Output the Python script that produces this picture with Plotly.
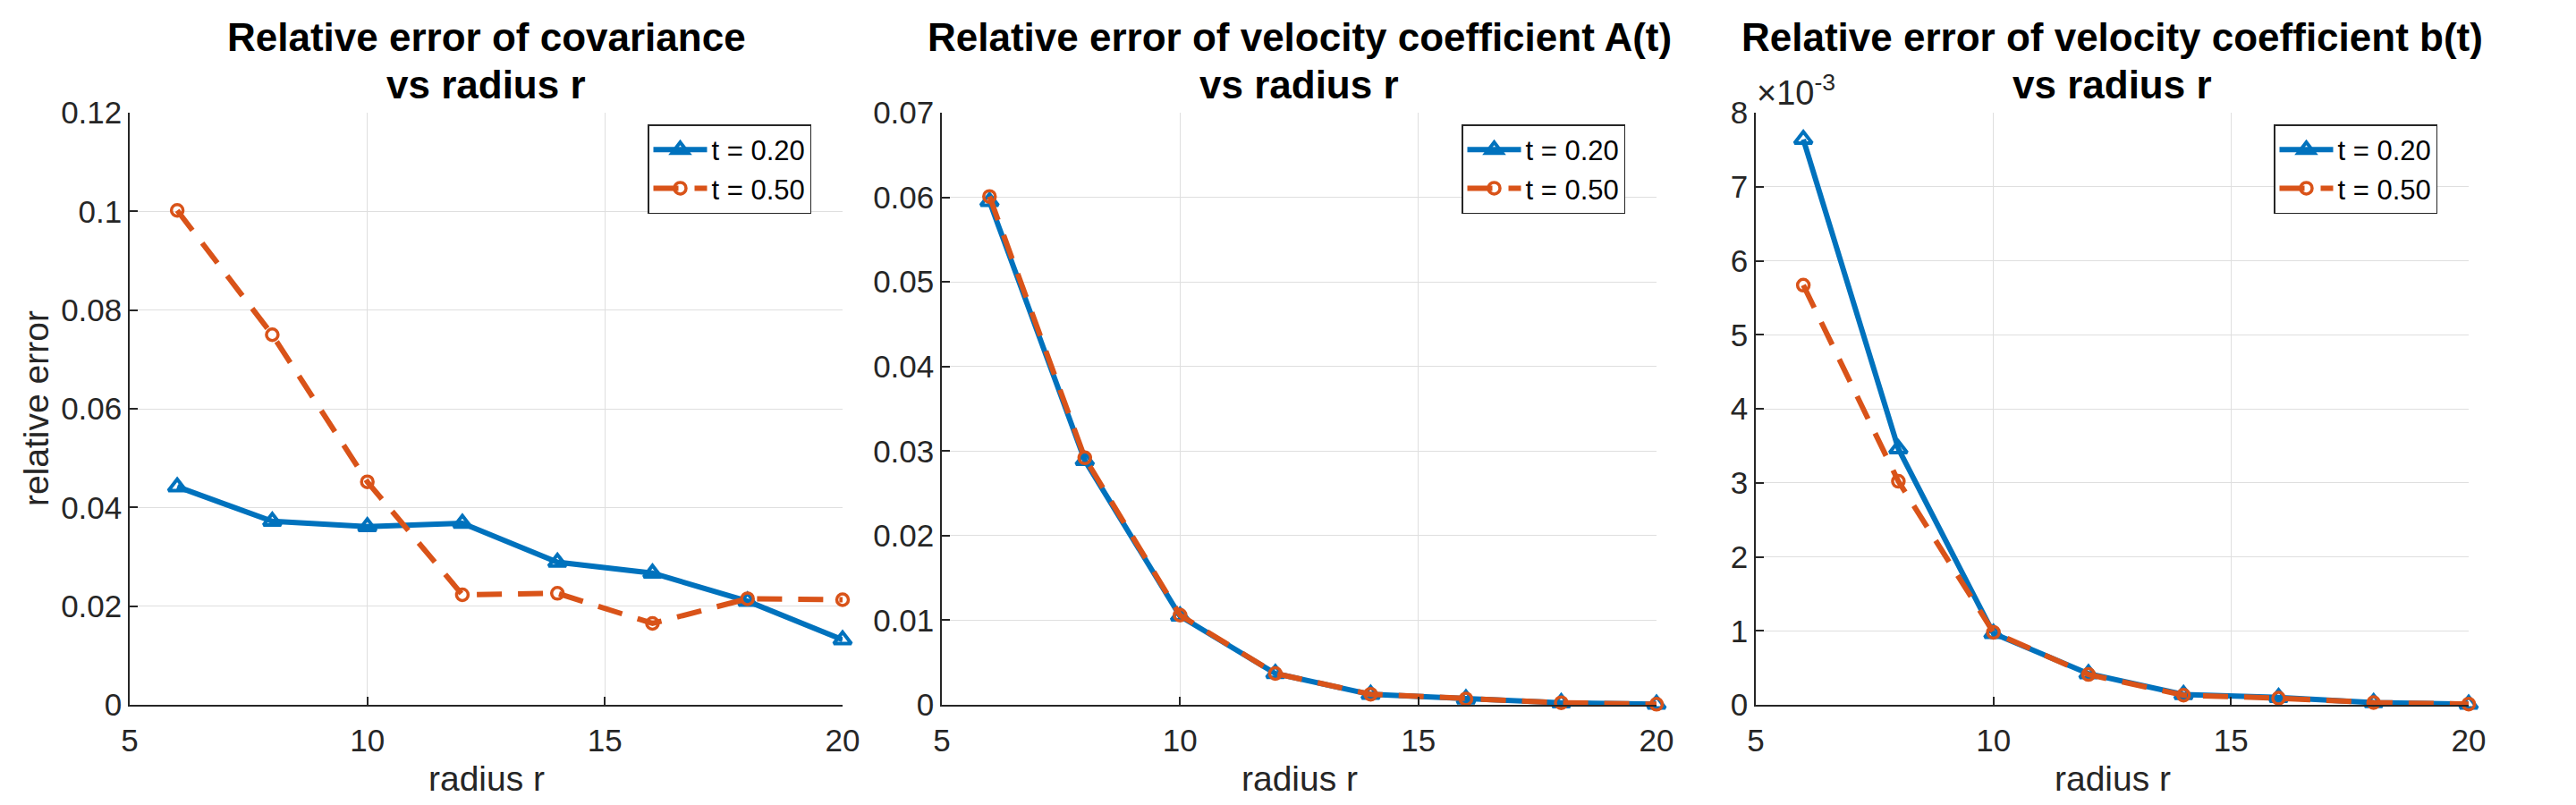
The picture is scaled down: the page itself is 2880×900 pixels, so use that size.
import plotly.graph_objects as go

# ---------------- data ----------------
r = [6, 8, 10, 12, 14, 16, 18, 20]

cov_err_t020 = [0.0442, 0.0372, 0.0361, 0.0368, 0.0289, 0.0267, 0.0210, 0.0132]
cov_err_t050 = [0.1002, 0.0750, 0.0452, 0.0223, 0.0226, 0.0165, 0.0215, 0.0213]

A_err_t020 = [0.0595, 0.0289, 0.0105, 0.0037, 0.00123, 0.0007, 0.00025, 0.00007]
A_err_t050 = [0.0601, 0.0292, 0.0106, 0.0037, 0.00125, 0.0007, 0.00025, 0.00007]

b_err_t020 = [7.64e-3, 3.46e-3, 0.965e-3, 0.42e-3, 0.14e-3, 0.10e-3, 0.03e-3, 0.01e-3]
b_err_t050 = [5.67e-3, 3.02e-3, 0.98e-3, 0.41e-3, 0.13e-3, 0.09e-3, 0.03e-3, 0.01e-3]

series_labels = ["t = 0.20", "t = 0.50"]
titles = [
    ["Relative error of covariance", "vs radius r"],
    ["Relative error of velocity coefficient A(t)", "vs radius r"],
    ["Relative error of velocity coefficient b(t)", "vs radius r"],
]
x_label = "radius r"
y_label = "relative error"
x_ticks = [5, 10, 15, 20]
y1_ticks = [0, 0.02, 0.04, 0.06, 0.08, 0.10, 0.12]
y2_ticks = [0, 0.01, 0.02, 0.03, 0.04, 0.05, 0.06, 0.07]
y3_ticks = [0, 1e-3, 2e-3, 3e-3, 4e-3, 5e-3, 6e-3, 7e-3, 8e-3]
y3_ticktext = ["0", "1", "2", "3", "4", "5", "6", "7", "8"]

# ---------------- style ----------------
W, H = 2880, 900
FONT = "Liberation Sans, Arial, Helvetica, sans-serif"
BLUE = "#0072BD"
ORANGE = "#D95319"
AX = "#262626"
GRID = "#DFDFDF"

px_x = [(145, 942), (1053, 1852), (1963, 2760)]
px_top, px_bot = 126, 788
ydom = [(H - px_bot) / H, (H - px_top) / H]

fig = go.Figure()

panels = [
    (cov_err_t020, cov_err_t050, y1_ticks, None, [0, 0.12]),
    (A_err_t020, A_err_t050, y2_ticks, None, [0, 0.07]),
    (b_err_t020, b_err_t050, y3_ticks, y3_ticktext, [0, 8e-3]),
]

annotations = []
for i, (s1, s2, yt, ytt, yr) in enumerate(panels):
    k = "" if i == 0 else str(i + 1)
    xa, ya = "x" + k, "y" + k
    leg = "legend" + k
    fig.add_trace(go.Scatter(
        x=r, y=s1, name=series_labels[0], mode="lines+markers",
        line=dict(color=BLUE, width=6),
        marker=dict(symbol="triangle-up-open", size=17, color=BLUE,
                    line=dict(width=4, color=BLUE)),
        xaxis=xa, yaxis=ya, legend=leg, cliponaxis=False,
    ))
    fig.add_trace(go.Scatter(
        x=r, y=s2, name=series_labels[1], mode="lines+markers",
        line=dict(color=ORANGE, width=6, dash="28px,18px"),
        marker=dict(symbol="circle-open", size=13, color=ORANGE,
                    line=dict(width=3.5, color=ORANGE)),
        xaxis=xa, yaxis=ya, legend=leg, cliponaxis=False,
    ))
    x0, x1 = px_x[i]
    axis_common = dict(
        showgrid=True, gridcolor=GRID, gridwidth=1,
        showline=True, linecolor=AX, linewidth=1.5,
        ticks="inside", ticklen=9, tickwidth=1.5, tickcolor=AX,
        tickfont=dict(family=FONT, size=35, color=AX),
        zeroline=False, mirror=False, automargin=False,
    )
    fig.update_layout(**{
        "xaxis" + k: dict(
            domain=[x0 / W, x1 / W], range=[5, 20], tickvals=x_ticks,
            anchor=ya, ticklabelstandoff=8, **axis_common),
        "yaxis" + k: dict(
            domain=ydom, range=yr, tickvals=yt,
            ticktext=ytt if ytt else None,
            anchor=xa, **axis_common),
    })
    # legend
    fig.update_layout(**{
        leg: dict(
            x=(x1 - 35) / W, xanchor="right", xref="paper",
            y=(H - 139) / H, yanchor="top", yref="paper",
            bgcolor="white", bordercolor=AX, borderwidth=1.5,
            font=dict(family=FONT, size=31, color="black"),
            itemwidth=60, tracegroupgap=0,
        )
    })
    cx = (x0 + x1) / 2 / W
    # titles
    annotations.append(dict(
        text="<b>" + titles[i][0] + "</b>", x=cx, y=(H - 42) / H,
        xref="paper", yref="paper", xanchor="center", yanchor="middle",
        showarrow=False, font=dict(family=FONT, size=44, color="black")))
    annotations.append(dict(
        text="<b>" + titles[i][1] + "</b>", x=cx, y=(H - 95) / H,
        xref="paper", yref="paper", xanchor="center", yanchor="middle",
        showarrow=False, font=dict(family=FONT, size=44, color="black")))
    # x label
    annotations.append(dict(
        text=x_label, x=cx, y=(H - 870) / H,
        xref="paper", yref="paper", xanchor="center", yanchor="middle",
        showarrow=False, font=dict(family=FONT, size=39, color=AX)))

# y label (first panel)
annotations.append(dict(
    text=y_label, x=40 / W, y=(H - (px_top + px_bot) / 2) / H,
    xref="paper", yref="paper", xanchor="center", yanchor="middle",
    textangle=-90, showarrow=False, font=dict(family=FONT, size=39, color=AX)))

# exponent label (third panel)
annotations.append(dict(
    text="×10<sup>-3</sup>", x=1962 / W, y=(H - 127) / H,
    xref="paper", yref="paper", xanchor="left", yanchor="bottom",
    showarrow=False, font=dict(family=FONT, size=38, color=AX)))

fig.update_layout(
    width=W, height=H,
    margin=dict(l=0, r=0, t=0, b=0, pad=0, autoexpand=False),
    paper_bgcolor="white", plot_bgcolor="white",
    annotations=annotations,
    showlegend=True,
)

fig.write_html(
    "out.html",
    post_script="document.body.style.margin='0px';"
                "document.documentElement.style.overflow='hidden';",
)
